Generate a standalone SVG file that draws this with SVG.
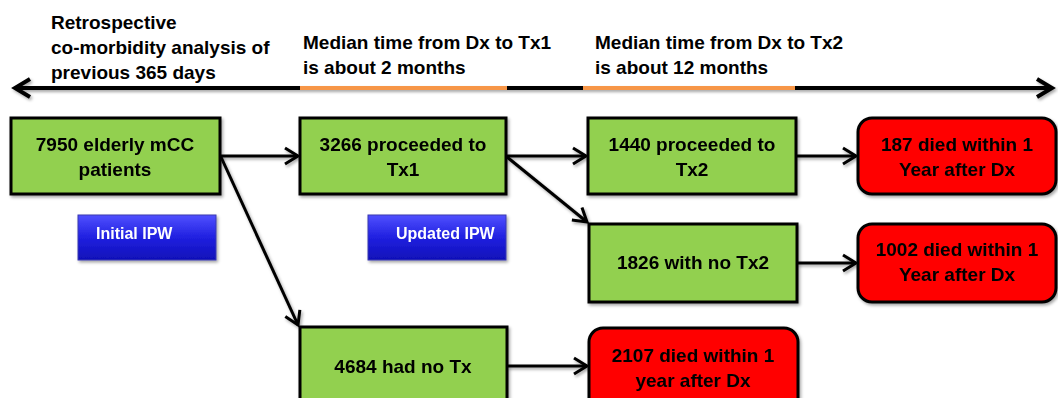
<svg xmlns="http://www.w3.org/2000/svg" width="1058" height="398" viewBox="0 0 1058 398">
<defs>
<style>
text{font-family:"Liberation Sans",Arial,sans-serif;font-weight:bold;fill:#000}
.t{font-size:19px}
.c{text-anchor:middle;font-size:19px}
.g{fill:#92D050;stroke:#000;stroke-width:3}
.r{fill:#FF0000;stroke:#000;stroke-width:3}
.b{fill:url(#blue);stroke:#3a3ab0;stroke-width:1}
.w{fill:#fff;font-size:16px}
.cn{stroke:#000;stroke-width:3;fill:none;marker-end:url(#ah)}
</style>
<linearGradient id="blue" x1="0" y1="0" x2="0" y2="1">
<stop offset="0" stop-color="#5050ff"/>
<stop offset="0.5" stop-color="#2020e0"/>
<stop offset="1" stop-color="#1010b8"/>
</linearGradient>
<filter id="sh" x="-10%" y="-10%" width="130%" height="140%">
<feDropShadow dx="1.5" dy="2" stdDeviation="1.5" flood-color="#000" flood-opacity="0.35"/>
</filter>
<filter id="shu" filterUnits="userSpaceOnUse" x="0" y="60" width="1058" height="60">
<feDropShadow dx="1.5" dy="2" stdDeviation="1.5" flood-color="#000" flood-opacity="0.35"/>
</filter>
<marker id="ah" markerUnits="userSpaceOnUse" markerWidth="30" markerHeight="30" viewBox="-20 -15 30 30" refX="0" refY="0" orient="auto-start-reverse">
<path d="M-13,-8 L0,0 L-13,8" fill="none" stroke="#000" stroke-width="3" stroke-linejoin="miter"/>
</marker>
<marker id="ah2" markerUnits="userSpaceOnUse" markerWidth="40" markerHeight="40" viewBox="-25 -20 40 40" refX="0" refY="0" orient="auto-start-reverse">
<path d="M-15,-9 L0,0 L-15,9" fill="none" stroke="#000" stroke-width="4" stroke-linejoin="miter"/>
</marker>
</defs>
<rect width="1058" height="398" fill="#fff"/>

<g id="timeline" filter="url(#shu)">
<line x1="15" y1="88" x2="1052" y2="88" stroke="#000" stroke-width="4" marker-start="url(#ah2)" marker-end="url(#ah2)"/>
<line x1="300" y1="88" x2="507" y2="88" stroke="#F79646" stroke-width="4"/>
<line x1="583" y1="88" x2="795" y2="88" stroke="#F79646" stroke-width="4"/>
</g>
<g id="timeline-labels">
<text class="t" x="51" y="29">Retrospective</text>
<text class="t" x="51" y="54">co-morbidity analysis of</text>
<text class="t" x="51" y="79">previous 365 days</text>
<text class="t" x="303" y="49">Median time from Dx to Tx1</text>
<text class="t" x="303" y="74">is about 2 months</text>
<text class="t" x="595" y="49">Median time from Dx to Tx2</text>
<text class="t" x="595" y="74">is about 12 months</text>
</g>

<g id="connectors" filter="url(#sh)">
<line class="cn" x1="220" y1="156" x2="298" y2="156"/>
<line class="cn" x1="221" y1="157" x2="298" y2="325"/>
<line class="cn" x1="506" y1="156" x2="586" y2="156"/>
<line class="cn" x1="507" y1="157" x2="587" y2="222"/>
<line class="cn" x1="796" y1="156" x2="856" y2="156"/>
<line class="cn" x1="797" y1="263" x2="856" y2="263"/>
<line class="cn" x1="507" y1="366" x2="587" y2="366"/>
</g>

<g id="n1" filter="url(#sh)">
<rect class="g" x="11" y="118" width="209" height="76"/>
<text class="c" x="115" y="151">7950 elderly mCC</text>
<text class="c" x="115" y="176">patients</text>
</g>
<g id="n2" filter="url(#sh)">
<rect class="g" x="300" y="118" width="206" height="76"/>
<text class="c" x="403" y="151">3266 proceeded to</text>
<text class="c" x="403" y="176">Tx1</text>
</g>
<g id="n3" filter="url(#sh)">
<rect class="g" x="588" y="118" width="208" height="76"/>
<text class="c" x="692" y="151">1440 proceeded to</text>
<text class="c" x="692" y="176">Tx2</text>
</g>
<g id="n4" filter="url(#sh)">
<rect class="r" x="858" y="118" width="198" height="76" rx="14"/>
<text class="c" x="957" y="151">187 died within 1</text>
<text class="c" x="957" y="176">Year after Dx</text>
</g>
<g id="n5" filter="url(#sh)">
<rect class="g" x="589" y="224" width="208" height="78"/>
<text class="c" x="693" y="269">1826 with no Tx2</text>
</g>
<g id="n6" filter="url(#sh)">
<rect class="r" x="858" y="224" width="198" height="78" rx="14"/>
<text class="c" x="957" y="256">1002 died within 1</text>
<text class="c" x="957" y="281">Year after Dx</text>
</g>
<g id="n7" filter="url(#sh)">
<rect class="g" x="300" y="327" width="207" height="85"/>
<text class="c" x="403" y="373">4684 had no Tx</text>
</g>
<g id="n8" filter="url(#sh)">
<rect class="r" x="589" y="328" width="209" height="85" rx="14"/>
<text class="c" x="693" y="362">2107 died within 1</text>
<text class="c" x="693" y="387">year after Dx</text>
</g>
<g id="ipw1" filter="url(#sh)">
<rect class="b" x="78" y="215" width="138" height="45"/>
<text class="w" x="96" y="239">Initial IPW</text>
</g>
<g id="ipw2" filter="url(#sh)">
<rect class="b" x="368" y="215" width="138" height="45"/>
<text class="w" x="396" y="239">Updated IPW</text>
</g>
</svg>
